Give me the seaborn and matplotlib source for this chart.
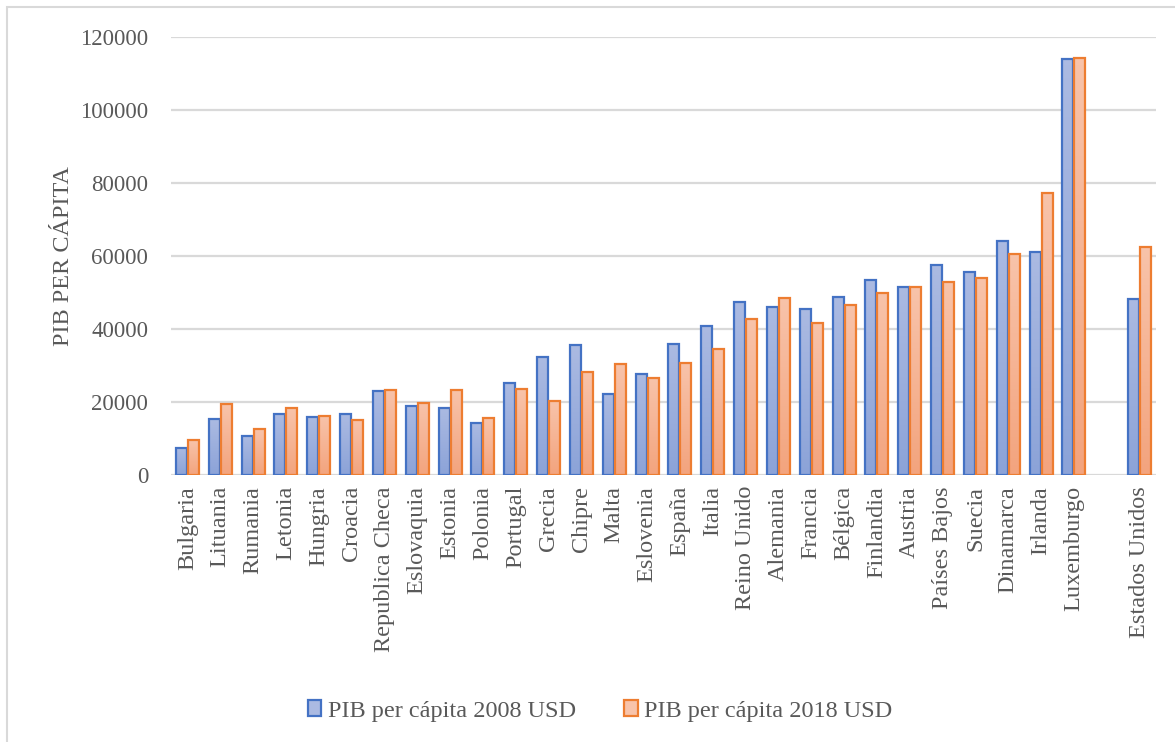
import numpy as np
import pandas as pd
import matplotlib
matplotlib.use("Agg")
import matplotlib.pyplot as plt
from matplotlib.colors import LinearSegmentedColormap
from matplotlib.patches import Rectangle, Patch
import seaborn as sns

countries = ["Bulgaria", "Lituania", "Rumania", "Letonia", "Hungria", "Croacia",
             "Republica Checa", "Eslovaquia", "Estonia", "Polonia", "Portugal",
             "Grecia", "Chipre", "Malta", "Eslovenia", "España", "Italia",
             "Reino Unido", "Alemania", "Francia", "Bélgica", "Finlandia",
             "Austria", "Países Bajos", "Suecia", "Dinamarca", "Irlanda",
             "Luxemburgo", "Estados Unidos"]
gdp_2008 = [7500, 15300, 10700, 16600, 16000, 16600, 23000, 18900, 18400, 14200,
            25100, 32200, 35600, 22200, 27800, 35800, 40800, 47300, 45900, 45600,
            48700, 53400, 51600, 57500, 55700, 64100, 61100, 114100, 48300]
gdp_2018 = [9500, 19400, 12500, 18300, 16200, 15100, 23300, 19800, 23300, 15600,
            23500, 20400, 28300, 30300, 26500, 30800, 34600, 42700, 48400, 41700,
            46700, 50000, 51400, 52800, 54000, 60500, 77300, 114200, 62500]
series_names = ["PIB per cápita 2008 USD", "PIB per cápita 2018 USD"]
y_ticks = [0, 20000, 40000, 60000, 80000, 100000, 120000]

# empty slot separating the EU members from the United States
order = countries[:-1] + [" "] + countries[-1:]

df = pd.DataFrame({
    "país": countries * 2,
    "valor": gdp_2008 + gdp_2018,
    "serie": [series_names[0]] * len(countries) + [series_names[1]] * len(countries),
})

edge_cols = ["#4472C4", "#ED7D31"]
grad_cols = [("#ABBAE2", "#8CA3D8"), ("#F8C3AA", "#F3A47E")]
text_col = "#595959"
grid_col = "#D9D9D9"

sns.set_theme(style="white")
plt.rcParams["font.family"] = ["Liberation Serif", "DejaVu Serif"]

W, H = 1175, 742
fig = plt.figure(figsize=(W / 100, H / 100), dpi=100)
ax = fig.add_axes([171 / W, 1 - 475 / H, 985 / W, 438 / H])

sns.barplot(data=df, x="país", y="valor", hue="serie", order=order,
            hue_order=series_names, palette=edge_cols, width=0.73,
            gap=0.08, ax=ax, legend=False, errorbar=None)

# gradient fill inside each bar with a coloured outline
for container, ecol, (c_top, c_bot) in zip(ax.containers, edge_cols, grad_cols):
    cmap = LinearSegmentedColormap.from_list("g", [c_bot, c_top])
    grad = np.linspace(0, 1, 64).reshape(-1, 1)
    for bar in container:
        x0, y0 = bar.get_x(), bar.get_y()
        w, h = bar.get_width(), bar.get_height()
        if not np.isfinite(h) or h <= 0:
            continue
        bar.set_facecolor("none")
        bar.set_edgecolor(ecol)
        bar.set_linewidth(1.6)
        bar.set_zorder(3)
        im = ax.imshow(grad, cmap=cmap, origin="lower", aspect="auto",
                       extent=(x0, x0 + w, y0, y0 + h), zorder=2.5)
        im.set_clip_path(bar)

ax.set_xlim(-0.5, len(order) - 0.5)
ax.set_ylim(0, 120000)
ax.set_yticks(y_ticks)
ax.set_yticklabels([str(v) for v in y_ticks])
ax.yaxis.grid(True, color=grid_col, linewidth=1.6, zorder=0)
ax.set_axisbelow(True)
for s in ax.spines.values():
    s.set_visible(False)

ax.tick_params(axis="y", length=0, pad=16.5, labelsize=16.5, labelcolor=text_col)
ax.tick_params(axis="x", length=0, pad=8, labelsize=17.5, labelcolor=text_col)
plt.setp(ax.get_xticklabels(), rotation=90, ha="center", va="top")

ax.set_xlabel("")
ax.set_ylabel("PIB PER CÁPITA", fontsize=17.5, color=text_col)
ax.yaxis.set_label_coords(-97 / 985, 0.5)

handles = [Patch(facecolor=grad_cols[i][0], edgecolor=edge_cols[i], linewidth=1.6,
                 label=series_names[i]) for i in range(2)]
fig.legend(handles=handles, loc="center", bbox_to_anchor=(600 / W, 1 - 711 / H),
           ncol=2, frameon=False, fontsize=17.5, labelcolor=text_col,
           handlelength=0.55, handleheight=0.6, handletextpad=0.25,
           columnspacing=2.0)

# chart-area outline
fig.patches.append(Rectangle((7 / W, -0.01), 1.1, 1 - 7 / H + 0.01,
                             transform=fig.transFigure, fill=False,
                             edgecolor=grid_col, linewidth=1.5, clip_on=False))

fig.savefig("out.png", dpi=100, facecolor="white")
